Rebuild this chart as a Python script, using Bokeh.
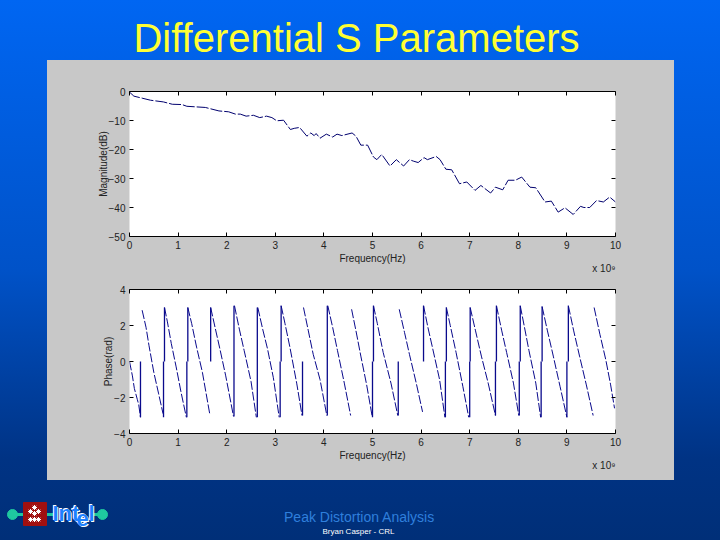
from bokeh.embed import file_html
from bokeh.layouts import column, row
from bokeh.models import FixedTicker, Label, LinearAxis, Range1d, Spacer, Title
from bokeh.plotting import figure
from bokeh.resources import INLINE

nan = float("nan")

# frequency in units of 1e9 Hz
mag_freq = [0, .09, .26, .43, .7, .88, 1.08, 1.18, 1.56, 1.84, 2.04, 2.18, 2.28, 2.4, 2.55, 2.68,
            2.82, 2.93, 3.03, 3.17, 3.31, 3.39, 3.5, 3.65, 3.73, 3.8, 3.84, 3.92, 4.05, 4.18, 4.27,
            4.37, 4.58, 4.66, 4.76, 4.9, 5.02, 5.09, 5.19, 5.36, 5.49, 5.64, 5.76, 5.84, 5.94, 6.06,
            6.13, 6.31, 6.39, 6.51, 6.63, 6.79, 6.94, 7.11, 7.23, 7.43, 7.53, 7.68, 7.79, 7.94, 8.07,
            8.24, 8.36, 8.55, 8.68, 8.82, 8.96, 9.13, 9.28, 9.35, 9.47, 9.61, 9.75, 9.88, 10]
mag_db = [-.2, -1.6, -2.3, -3, -3.6, -4.4, -4.5, -5.1, -5.5, -6.7, -7, -7.8, -7.8, -8.5, -8.2, -9,
          -8.5, -9, -10.1, -9.9, -13.1, -12.7, -12.4, -15.4, -14.3, -15.2, -14.5, -16.1, -14.7, -15.7,
          -14.7, -15.2, -14.3, -15.4, -18.5, -18.5, -22.6, -23.5, -21.7, -25.7, -23.5, -25.7, -23.5,
          -24, -24.5, -22.8, -23.5, -22.4, -23.5, -26.8, -27, -31.8, -31.2, -34.1, -32.4, -35, -33,
          -33.9, -30.6, -30.6, -29.5, -33, -33.2, -38.1, -37.8, -41.6, -40.1, -42.4, -39.6, -40, -40,
          -37.6, -38.1, -36.4, -38.1]

# descending ramps of the wrapped phase, nan breaks the line between ramps
ramp_freq = [0, .06, .1, .16, .19, .226, nan,
             .26, .34, .4, .5, .6, .69, nan,
             .72, .78, .86, .96, 1.06, 1.17, nan,
             1.2, 1.28, 1.38, 1.5, 1.65, nan,
             1.67, 1.76, 1.86, 1.98, 2.14, nan,
             2.16, 2.26, 2.36, 2.5, 2.61, nan,
             2.64, 2.74, 2.84, 2.96, 3.08, nan,
             3.12, 3.2, 3.3, 3.44, 3.55, nan,
             3.58, 3.68, 3.78, 3.92, 4.06, nan,
             4.08, 4.18, 4.28, 4.42, 4.55, nan,
             4.57, 4.66, 4.76, 4.88, 4.99, nan,
             5.02, 5.1, 5.22, 5.38, 5.52, nan,
             5.55, 5.66, 5.76, 5.9, 6.03, nan,
             6.05, 6.14, 6.24, 6.38, 6.49, nan,
             6.52, 6.6, 6.72, 6.86, 6.98, nan,
             7.01, 7.12, 7.24, 7.38, 7.53, nan,
             7.55, 7.66, 7.76, 7.9, 8.01, nan,
             8.04, 8.12, 8.22, 8.36, 8.46, nan,
             8.49, 8.6, 8.72, 8.86, 9.0, nan,
             9.03, 9.14, 9.26, 9.4, 9.54, nan,
             9.56, 9.68, 9.8, 9.9, 9.98]
ramp_rad = [0, -.8, -1.5, -2.1, -2.4, -3.1, nan,
            2.85, 1.9, .9, -.6, -1.8, -2.9, nan,
            3.0, 2.2, 1.0, -.3, -1.7, -3.1, nan,
            3.0, 2.1, .8, -.6, -2.9, nan,
            3.0, 1.9, .7, -.8, -3.05, nan,
            3.1, 1.8, .6, -1.1, -3.1, nan,
            3.0, 1.8, .7, -.9, -3.1, nan,
            3.1, 2.1, .8, -1.2, -3.0, nan,
            3.0, 1.7, .4, -1.0, -3.0, nan,
            3.1, 1.9, .6, -1.2, -3.0, nan,
            2.9, 1.7, .3, -1.3, -3.0, nan,
            3.1, 2.1, .5, -1.2, -3.0, nan,
            2.9, 1.6, .4, -1.2, -2.8, nan,
            3.1, 1.9, .7, -1.0, -3.1, nan,
            3.0, 2.0, .5, -1.4, -3.1, nan,
            3.0, 1.7, .3, -1.2, -3.0, nan,
            3.1, 1.7, .5, -1.2, -3.0, nan,
            3.1, 2.0, .6, -1.2, -3.1, nan,
            3.05, 1.7, .3, -1.4, -3.1, nan,
            3.1, 1.7, .3, -1.3, -3.0, nan,
            3.0, 1.5, .1, -1.3, -2.6]

# the vertical wrap jumps
jump_freq = [.226, .7, .72, 1.18, 1.2, 1.67, 2.15, 2.63, 3.1, 3.12, 3.56, 4.07, 5.0, 5.02, 5.53,
             6.05, 6.5, 6.52, 7.0, 7.01, 7.53, 7.55, 8.02, 8.04, 8.47, 8.49, 9.0, 9.03]
jump_low = [-3.1, -3.1, 0, -3.1, 0, 0, -3.05, -3.1, -3.1, 0, -3.0, -3.0, -3.1, 0, -3.0,
            0, -3.1, 0, -3.1, 0, -3.0, 0, -3.0, 0, -3.1, 0, -3.1, 0]
jump_high = [0, 0, 3.0, 0, 3.0, 3.0, 3.1, 3.0, 0, 3.1, 0, 3.1, 0, 3.1, 0,
             3.1, 0, 3.0, 0, 3.0, 0, 3.1, 0, 3.1, 0, 3.05, 0, 3.1]

freq_ticks = list(range(0, 11))
mag_ticks = [0, -10, -20, -30, -40, -50]
phase_ticks = [-4, -2, 0, 2, 4]

FONT = "Liberation Sans"
PANEL = "#c8c8c8"
AXIS_TEXT = "#222222"


def subplot(height, top, bottom, y_range, y_ticks, y_label):
    p = figure(width=627, height=height, x_range=Range1d(0, 10), y_range=Range1d(*y_range),
               output_backend="svg", toolbar_location=None,
               min_border_left=82, min_border_right=59, min_border_top=top, min_border_bottom=bottom,
               background_fill_color="white", border_fill_color=PANEL, outline_line_color=None)
    p.grid.visible = False

    p.xaxis.ticker = FixedTicker(ticks=freq_ticks)
    p.xaxis.axis_label = "Frequency(Hz)"
    p.xaxis.major_label_standoff = 4
    p.xaxis.axis_label_standoff = 1
    p.yaxis.ticker = FixedTicker(ticks=y_ticks)
    p.yaxis.axis_label = y_label
    p.yaxis.major_label_standoff = 4
    p.yaxis.axis_label_standoff = -3

    # frame ticks on the other two sides, no labels there
    p.add_layout(LinearAxis(ticker=FixedTicker(ticks=freq_ticks),
                            major_label_overrides={t: "" for t in freq_ticks}), "above")
    p.add_layout(LinearAxis(ticker=FixedTicker(ticks=y_ticks),
                            major_label_overrides={t: "" for t in y_ticks}), "right")
    p.above[0].major_label_standoff = 0
    p.right[0].major_label_standoff = 0

    for ax in p.axis:
        ax.major_tick_in = 4
        ax.major_tick_out = 0
        ax.minor_tick_line_color = None
        ax.major_tick_line_color = "black"
        ax.major_label_text_font = FONT
        ax.major_label_text_font_size = "10px"
        ax.major_label_text_color = AXIS_TEXT
        ax.axis_label_text_font = FONT
        ax.axis_label_text_font_size = "10px"
        ax.axis_label_text_font_style = "normal"
        ax.axis_label_text_color = AXIS_TEXT
    p.yaxis.axis_line_color = None
    p.right[0].axis_line_color = None

    # scale factor of the frequency axis
    p.add_layout(Title(text="x 10\u2079", align="right", standoff=-14, text_font=FONT,
                       text_font_size="10px", text_font_style="normal", text_color=AXIS_TEXT), "below")
    return p


mag = subplot(222, 31, 46, (-50, 0), mag_ticks, "Magnitude(dB)")
mag.line(mag_freq, mag_db, line_color="#00006e", line_width=1, line_dash=[12, 2])

phase = subplot(198, 7, 47, (-4, 4), phase_ticks, "Phase(rad)")
phase.line(ramp_freq, ramp_rad, line_color="#0a0a8c", line_width=1, line_dash=[9, 2])
phase.segment(jump_freq, jump_low, jump_freq, jump_high, line_color="#0a0a8c", line_width=1.3)

# title strip and footer use page pixels as their coordinates
header = figure(width=720, height=60, x_range=Range1d(0, 720), y_range=Range1d(60, 0),
                x_axis_type=None, y_axis_type=None, output_backend="svg", toolbar_location=None,
                min_border=0, background_fill_color=None, border_fill_color=None, outline_line_color=None)
header.grid.visible = False
header.add_layout(Label(x=356, y=37, text="Differential S Parameters", text_align="center",
                        text_baseline="middle", text_font=FONT, text_font_size="40px",
                        text_color="#ffff33"))

footer = figure(width=720, height=60, x_range=Range1d(0, 720), y_range=Range1d(540, 480),
                x_axis_type=None, y_axis_type=None, output_backend="svg", toolbar_location=None,
                min_border=0, background_fill_color=None, border_fill_color=None, outline_line_color=None)
footer.grid.visible = False
footer.segment([12, 46, 90], [514, 514, 514], [23, 54, 102], [514, 514, 514], line_color="#1fc8a0", line_width=3)
footer.scatter([12, 102], [514, 514], size=10, color="#1fc8a0")
footer.quad(left=[23], right=[46], top=[502], bottom=[525], color="#a01010")
footer.scatter([34, 34, 34, 30, 38, 30, 38], [507, 513, 519, 511, 511, 519, 519], size=5,
               marker="asterisk", line_color="white", line_width=1)

for dx, color in ((-1, "white"), (1, "white"), (0, "#1e80ff")):
    footer.add_layout(Label(x=52 + dx, y=513 + dx, text="Int", text_baseline="middle", text_font=FONT,
                            text_font_size="22px", text_font_style="bold", text_color=color))
    footer.add_layout(Label(x=76 + dx, y=518 + dx, text="e", text_baseline="middle", text_font=FONT,
                            text_font_size="22px", text_font_style="bold", text_color=color))
    footer.add_layout(Label(x=88 + dx, y=513 + dx, text="l", text_baseline="middle", text_font=FONT,
                            text_font_size="22px", text_font_style="bold", text_color=color))

footer.add_layout(Label(x=359, y=516.5, text="Peak Distortion Analysis", text_align="center",
                        text_baseline="middle", text_font=FONT, text_font_size="14px",
                        text_color="#2f7fdc"))
footer.add_layout(Label(x=358, y=530.5, text="Bryan Casper - CRL", text_align="center",
                        text_baseline="middle", text_font=FONT, text_font_size="8px",
                        text_color="white"))

plots = column(mag, phase, spacing=0, styles={"background": PANEL})
middle = row(Spacer(width=47, height=420), plots, Spacer(width=46, height=420), spacing=0)
page = column(header, middle, footer, spacing=0, width=720, height=540,
              styles={"position": "fixed", "left": "0px", "top": "0px",
                      "background": "linear-gradient(180deg, #0066f2 0%, #0052c8 50%, #003384 85%, #002f78 100%)"})

open("out.html", "w").write(file_html(page, INLINE))
